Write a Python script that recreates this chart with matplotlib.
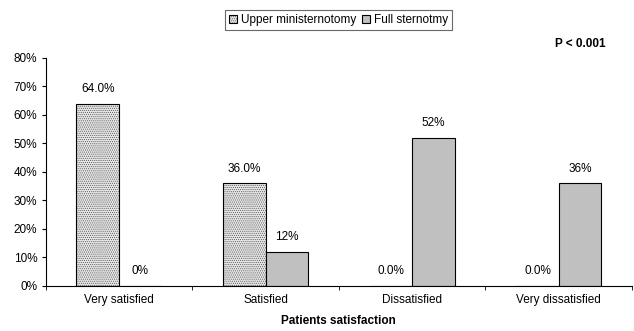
import matplotlib
matplotlib.use("Agg")
import matplotlib.pyplot as plt
from matplotlib.legend_handler import HandlerTuple
import numpy as np

plt.rcParams['font.family'] = ['Liberation Sans', 'DejaVu Sans']
plt.rcParams['hatch.linewidth'] = 0.5

categories = ["Very satisfied", "Satisfied", "Dissatisfied", "Very dissatisfied"]
upper = [64.0, 36.0, 0.0, 0.0]
full = [0, 12, 52, 36]
upper_labels = ["64.0%", "36.0%", "0.0%", "0.0%"]
full_labels = ["0%", "12%", "52%", "36%"]
yticks = [0, 10, 20, 30, 40, 50, 60, 70, 80]

fs = 8.5
fig = plt.figure(figsize=(6.34, 3.31), dpi=100)
ax = fig.add_axes([0.072, 0.136, 0.925, 0.689])

x = np.arange(len(categories))
w = 0.29
# dotted fill drawn in grey, outline drawn separately in black
b1_fill = ax.bar(x - w / 2, upper, w, facecolor='#e6e6e6', edgecolor='#5a5a5a',
                 hatch='........', linewidth=0)
b1_edge = ax.bar(x - w / 2, upper, w, fill=False, edgecolor='black', linewidth=0.8)
b2 = ax.bar(x + w / 2, full, w, facecolor='#c0c0c0', edgecolor='black',
            linewidth=0.8)

for xi, v, t in zip(x - w / 2, upper, upper_labels):
    ax.text(xi, v + 3, t, ha='center', va='bottom', fontsize=fs)
for xi, v, t in zip(x + w / 2, full, full_labels):
    ax.text(xi, v + 3, t, ha='center', va='bottom', fontsize=fs)

ax.set_xlim(-0.5, len(categories) - 0.5)
ax.set_ylim(0, 80)
ax.set_yticks(yticks)
ax.set_yticklabels([f"{t}%" for t in yticks], fontsize=fs)
ax.set_xticks(x)
ax.set_xticklabels(categories, fontsize=fs)
ax.tick_params(axis='x', length=0, pad=6)
ax.set_xticks(np.arange(len(categories) + 1) - 0.5, minor=True)
ax.tick_params(axis='x', which='minor', length=3, direction='out')
ax.tick_params(axis='y', length=3, direction='out', pad=3)
ax.spines['top'].set_visible(False)
ax.spines['right'].set_visible(False)
ax.spines['left'].set_linewidth(0.8)
ax.spines['bottom'].set_linewidth(0.8)

ax.set_xlabel("Patients satisfaction", fontsize=fs, fontweight='bold', labelpad=6)
fig.text(0.915, 0.868, "P < 0.001", fontsize=fs, fontweight='bold', ha='center', va='center')

leg = fig.legend(handles=[(b1_fill, b1_edge), b2],
                 labels=['Upper ministernotomy', 'Full sternotmy'],
                 handler_map={tuple: HandlerTuple(ndivide=1, pad=0)},
                 loc='center', bbox_to_anchor=(0.534, 0.94),
                 ncol=2, fontsize=fs, frameon=True, fancybox=False,
                 handlelength=0.7, handleheight=0.7, handletextpad=0.3,
                 columnspacing=0.5, borderpad=0.35, edgecolor='#444444')
leg.get_frame().set_linewidth(0.8)

fig.savefig("out.png", dpi=100)
